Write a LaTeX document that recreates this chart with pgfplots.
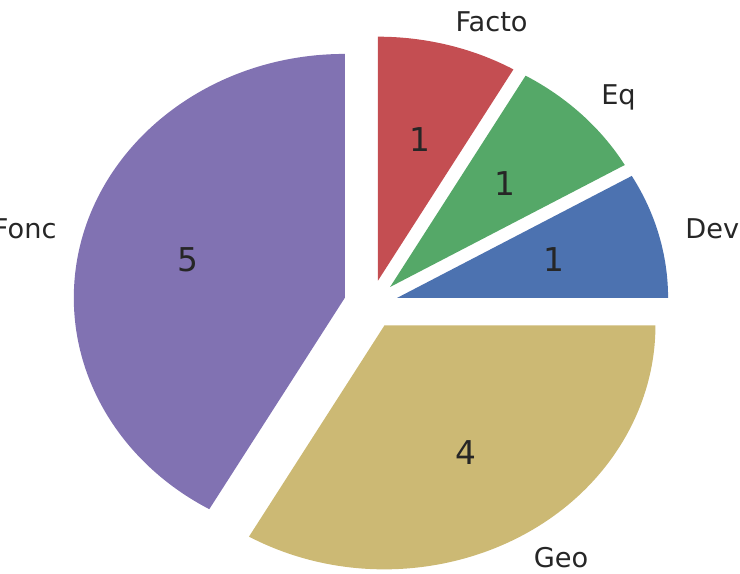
\documentclass[border=0pt]{standalone}
\usepackage{pgfplots}
\pgfplotsset{compat=1.18}
\usepackage{fontspec}
\setmainfont{DejaVu Sans}
\definecolor{cDev}{HTML}{4C72B0}
\definecolor{cEq}{HTML}{55A868}
\definecolor{cFacto}{HTML}{C44E52}
\definecolor{cFonc}{HTML}{8172B2}
\definecolor{cGeo}{HTML}{CCB974}
\definecolor{txt}{HTML}{262626}
\newcommand\pietotal{12}
\newcommand\rx{135.5pt}
\newcommand\ry{122pt}
% \slice{cumulative start}{value}{colour}{name}{label anchor}
\newcommand\slice[5]{%
  \pgfmathsetmacro\aS{#1/\pietotal*360}%
  \pgfmathsetmacro\aE{(#1+#2)/\pietotal*360}%
  \pgfmathsetmacro\aM{(\aS+\aE)/2}%
  \pgfmathsetmacro\ox{0.1*cos(\aM)}%
  \pgfmathsetmacro\oy{0.1*sin(\aM)}%
  \pgfmathsetmacro\sx{\ox+cos(\aS)}%
  \pgfmathsetmacro\sy{\oy+sin(\aS)}%
  \pgfmathsetmacro\lx{\ox+1.1*cos(\aM)}%
  \pgfmathsetmacro\ly{\oy+1.1*sin(\aM)}%
  \pgfmathsetmacro\px{\ox+0.6*cos(\aM)}%
  \pgfmathsetmacro\py{\oy+0.6*sin(\aM)}%
  \edef\temp{%
    \noexpand\fill[#3] (axis cs:\ox,\oy) -- (axis cs:\sx,\sy)
      arc[start angle=\aS, end angle=\aE, x radius=\rx, y radius=\ry] -- cycle;
    \noexpand\node[anchor=#5, inner sep=0pt, text=txt, font=\noexpand\fontsize{13.6}{16}\noexpand\selectfont] at (axis cs:\lx,\ly) {#4};
    \noexpand\node[inner sep=0pt, text=txt, font=\noexpand\fontsize{16.4}{19}\noexpand\selectfont] at (axis cs:\px,\py) {#2};
  }\temp
}
\begin{document}
\begin{tikzpicture}
\begin{axis}[
  x=135.5pt, y=122pt,
  xmin=-1.369, xmax=1.362, ymin=-1.105, ymax=1.247,
  hide axis, clip=false,
]
\slice{0}{1}{cDev}{Dev}{west}
\slice{1}{1}{cEq}{Eq}{west}
\slice{2}{1}{cFacto}{Facto}{west}
\slice{3}{5}{cFonc}{Fonc}{east}
\slice{8}{4}{cGeo}{Geo}{west}
\coordinate (bl) at (rel axis cs:0,0);
\coordinate (tr) at (rel axis cs:1,1);
\end{axis}
\pgfresetboundingbox
\path[use as bounding box] (bl) rectangle (tr);
\end{tikzpicture}
\end{document}
